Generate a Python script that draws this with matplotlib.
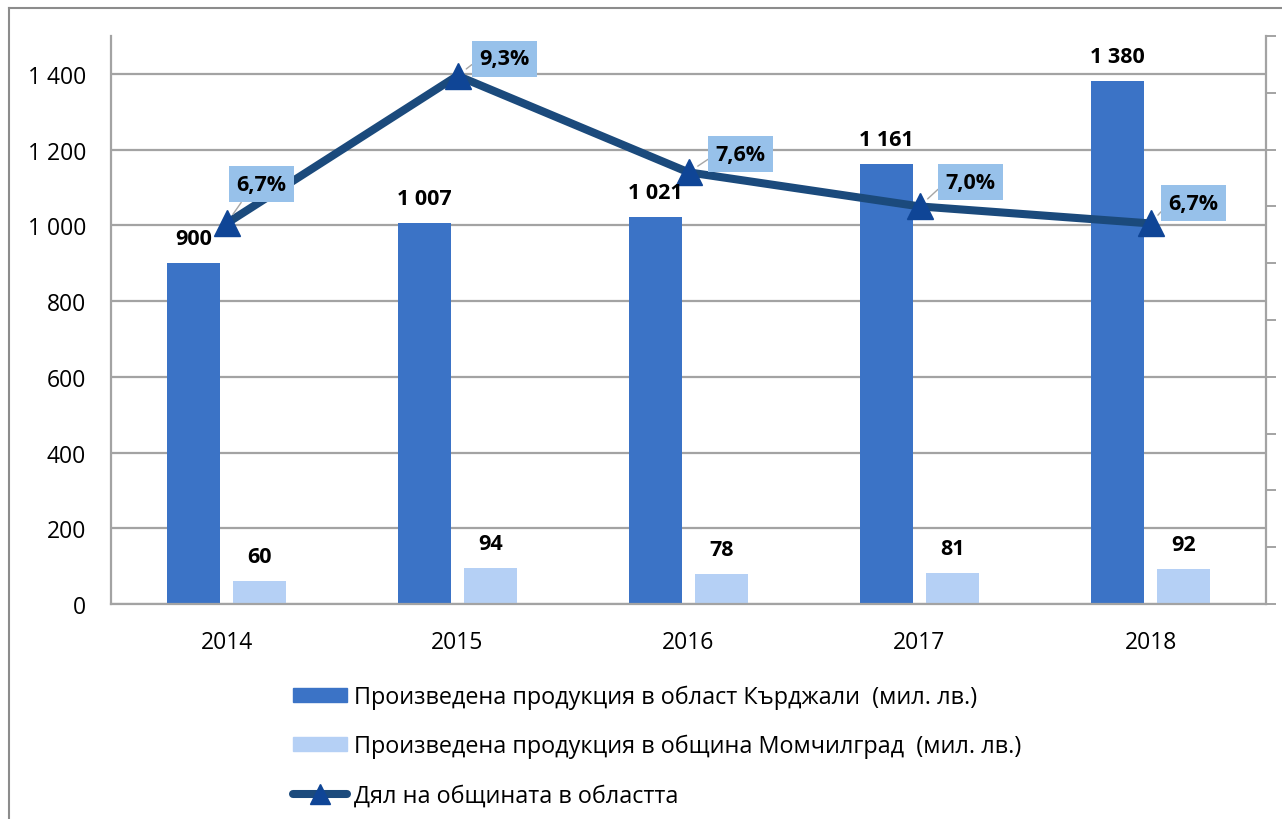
import numpy as np
import matplotlib
matplotlib.use("Agg")
import matplotlib.pyplot as plt
from matplotlib.lines import Line2D

plt.rcParams['font.family'] = ['Open Sans', 'DejaVu Sans']

# data
years = ['2014', '2015', '2016', '2017', '2018']
oblast = [900, 1007, 1021, 1161, 1380]
obshtina = [60, 94, 78, 81, 92]
share = [6.7, 9.3, 7.6, 7.0, 6.7]
oblast_lbl = ['900', '1 007', '1 021', '1 161', '1 380']
share_lbl = ['6,7%', '9,3%', '7,6%', '7,0%', '6,7%']
y_ticks = [0, 200, 400, 600, 800, 1000, 1200, 1400]
y_tick_lbl = ['0', '200', '400', '600', '800', '1 000', '1 200', '1 400']

leg_names = ['Произведена продукция в област Кърджали  (мил. лв.)',
             'Произведена продукция в община Момчилград  (мил. лв.)',
             'Дял на общината в областта']

c_dark = '#3B73C6'
c_light = '#B5D0F5'
c_line = '#1B4A7C'
c_mark = '#0F4596'
c_box = '#97C1EA'
c_grid = '#A3A3A3'

W, H = 1282, 820
fig = plt.figure(figsize=(W / 100, H / 100), dpi=100)
ax = fig.add_axes([111 / W, 1 - 605 / H, (1266 - 111) / W, (605 - 37) / H])
ax2 = ax.twinx()

x = np.arange(len(years))
bw = 0.226
off = 0.143
ax.bar(x - off, oblast, bw, color=c_dark, zorder=2)
ax.bar(x + off, obshtina, bw, color=c_light, zorder=2)

ax.set_xlim(-0.5, len(years) - 0.5)
ax.set_ylim(0, 1500)
ax.set_yticks(y_ticks)
ax.set_yticklabels(y_tick_lbl)
ax.set_xticks(x)
ax.set_xticklabels(years)
ax.tick_params(axis='both', labelsize=16.5, length=0)
ax.tick_params(axis='y', pad=18)
ax.tick_params(axis='x', pad=19)
ax.yaxis.grid(True, color=c_grid, lw=1.6)
ax.set_axisbelow(True)
for s in ['top', 'right']:
    ax.spines[s].set_visible(False)
for s in ['left', 'bottom']:
    ax.spines[s].set_color(c_grid)
    ax.spines[s].set_linewidth(1.6)

# secondary axis for the share
ax2.plot(x, share, color=c_line, lw=5.8, marker='^', ms=19,
         mfc=c_mark, mec=c_mark, solid_capstyle='round', zorder=3)
ax2.set_ylim(0, 10)
ax2.set_yticks(np.arange(0, 11, 1))
ax2.tick_params(axis='y', labelright=False, length=7, width=1.4, color=c_grid)
for s in ['top', 'left', 'bottom']:
    ax2.spines[s].set_visible(False)
ax2.spines['right'].set_color(c_grid)
ax2.spines['right'].set_linewidth(1.6)

# value labels over the bars
for i in range(len(years)):
    ax2.annotate(oblast_lbl[i], (x[i] - off, oblast[i]), xycoords=ax.transData,
                 xytext=(0, 14), textcoords='offset pixels', ha='center',
                 va='bottom', fontsize=15.5, fontweight='bold')
    ax2.annotate(str(obshtina[i]), (x[i] + off, obshtina[i]), xycoords=ax.transData,
                 xytext=(0, 14), textcoords='offset pixels', ha='center',
                 va='bottom', fontsize=15.5, fontweight='bold')

# share labels in boxes
shifts = [(35, 39), (47, 17), (52, 18), (51, 24), (43, 20)]
rels = [(0.2, 0.0), (0.0, 0.5), (0.0, 0.5), (0.0, 0.5), (0.0, 0.5)]
for i in range(len(years)):
    ax2.annotate(share_lbl[i], (x[i], share[i]), xytext=shifts[i],
                 textcoords='offset pixels', ha='center', va='center',
                 fontsize=15.5, fontweight='bold', zorder=5,
                 bbox=dict(boxstyle='square,pad=0.35', fc=c_box, ec='none'),
                 arrowprops=dict(arrowstyle='-', color='#A6A6A6', lw=1,
                                 shrinkA=0, shrinkB=8, relpos=rels[i]))

# legend
handles = [plt.Rectangle((0, 0), 1, 1, color=c_dark),
           plt.Rectangle((0, 0), 1, 1, color=c_light),
           Line2D([0], [0], color=c_line, lw=5.8, marker='^', ms=14,
                  mfc=c_mark, mec=c_mark, solid_capstyle='round')]
fig.legend(handles, leg_names, loc='upper left',
           bbox_to_anchor=(293 / W, 1 - 686 / H), frameon=False,
           fontsize=16.8, handlelength=2.3, handleheight=0.55,
           handletextpad=0.3, labelspacing=1.06, borderpad=0,
           borderaxespad=0, numpoints=1)

# outer frame of the chart
fig.add_artist(Line2D([9 / W, 9 / W], [0, 1 - 9 / H], color='#8C8C8C', lw=1.5))
fig.add_artist(Line2D([9 / W, 1], [1 - 9 / H, 1 - 9 / H], color='#8C8C8C', lw=1.5))

fig.savefig('out.png', dpi=100)
